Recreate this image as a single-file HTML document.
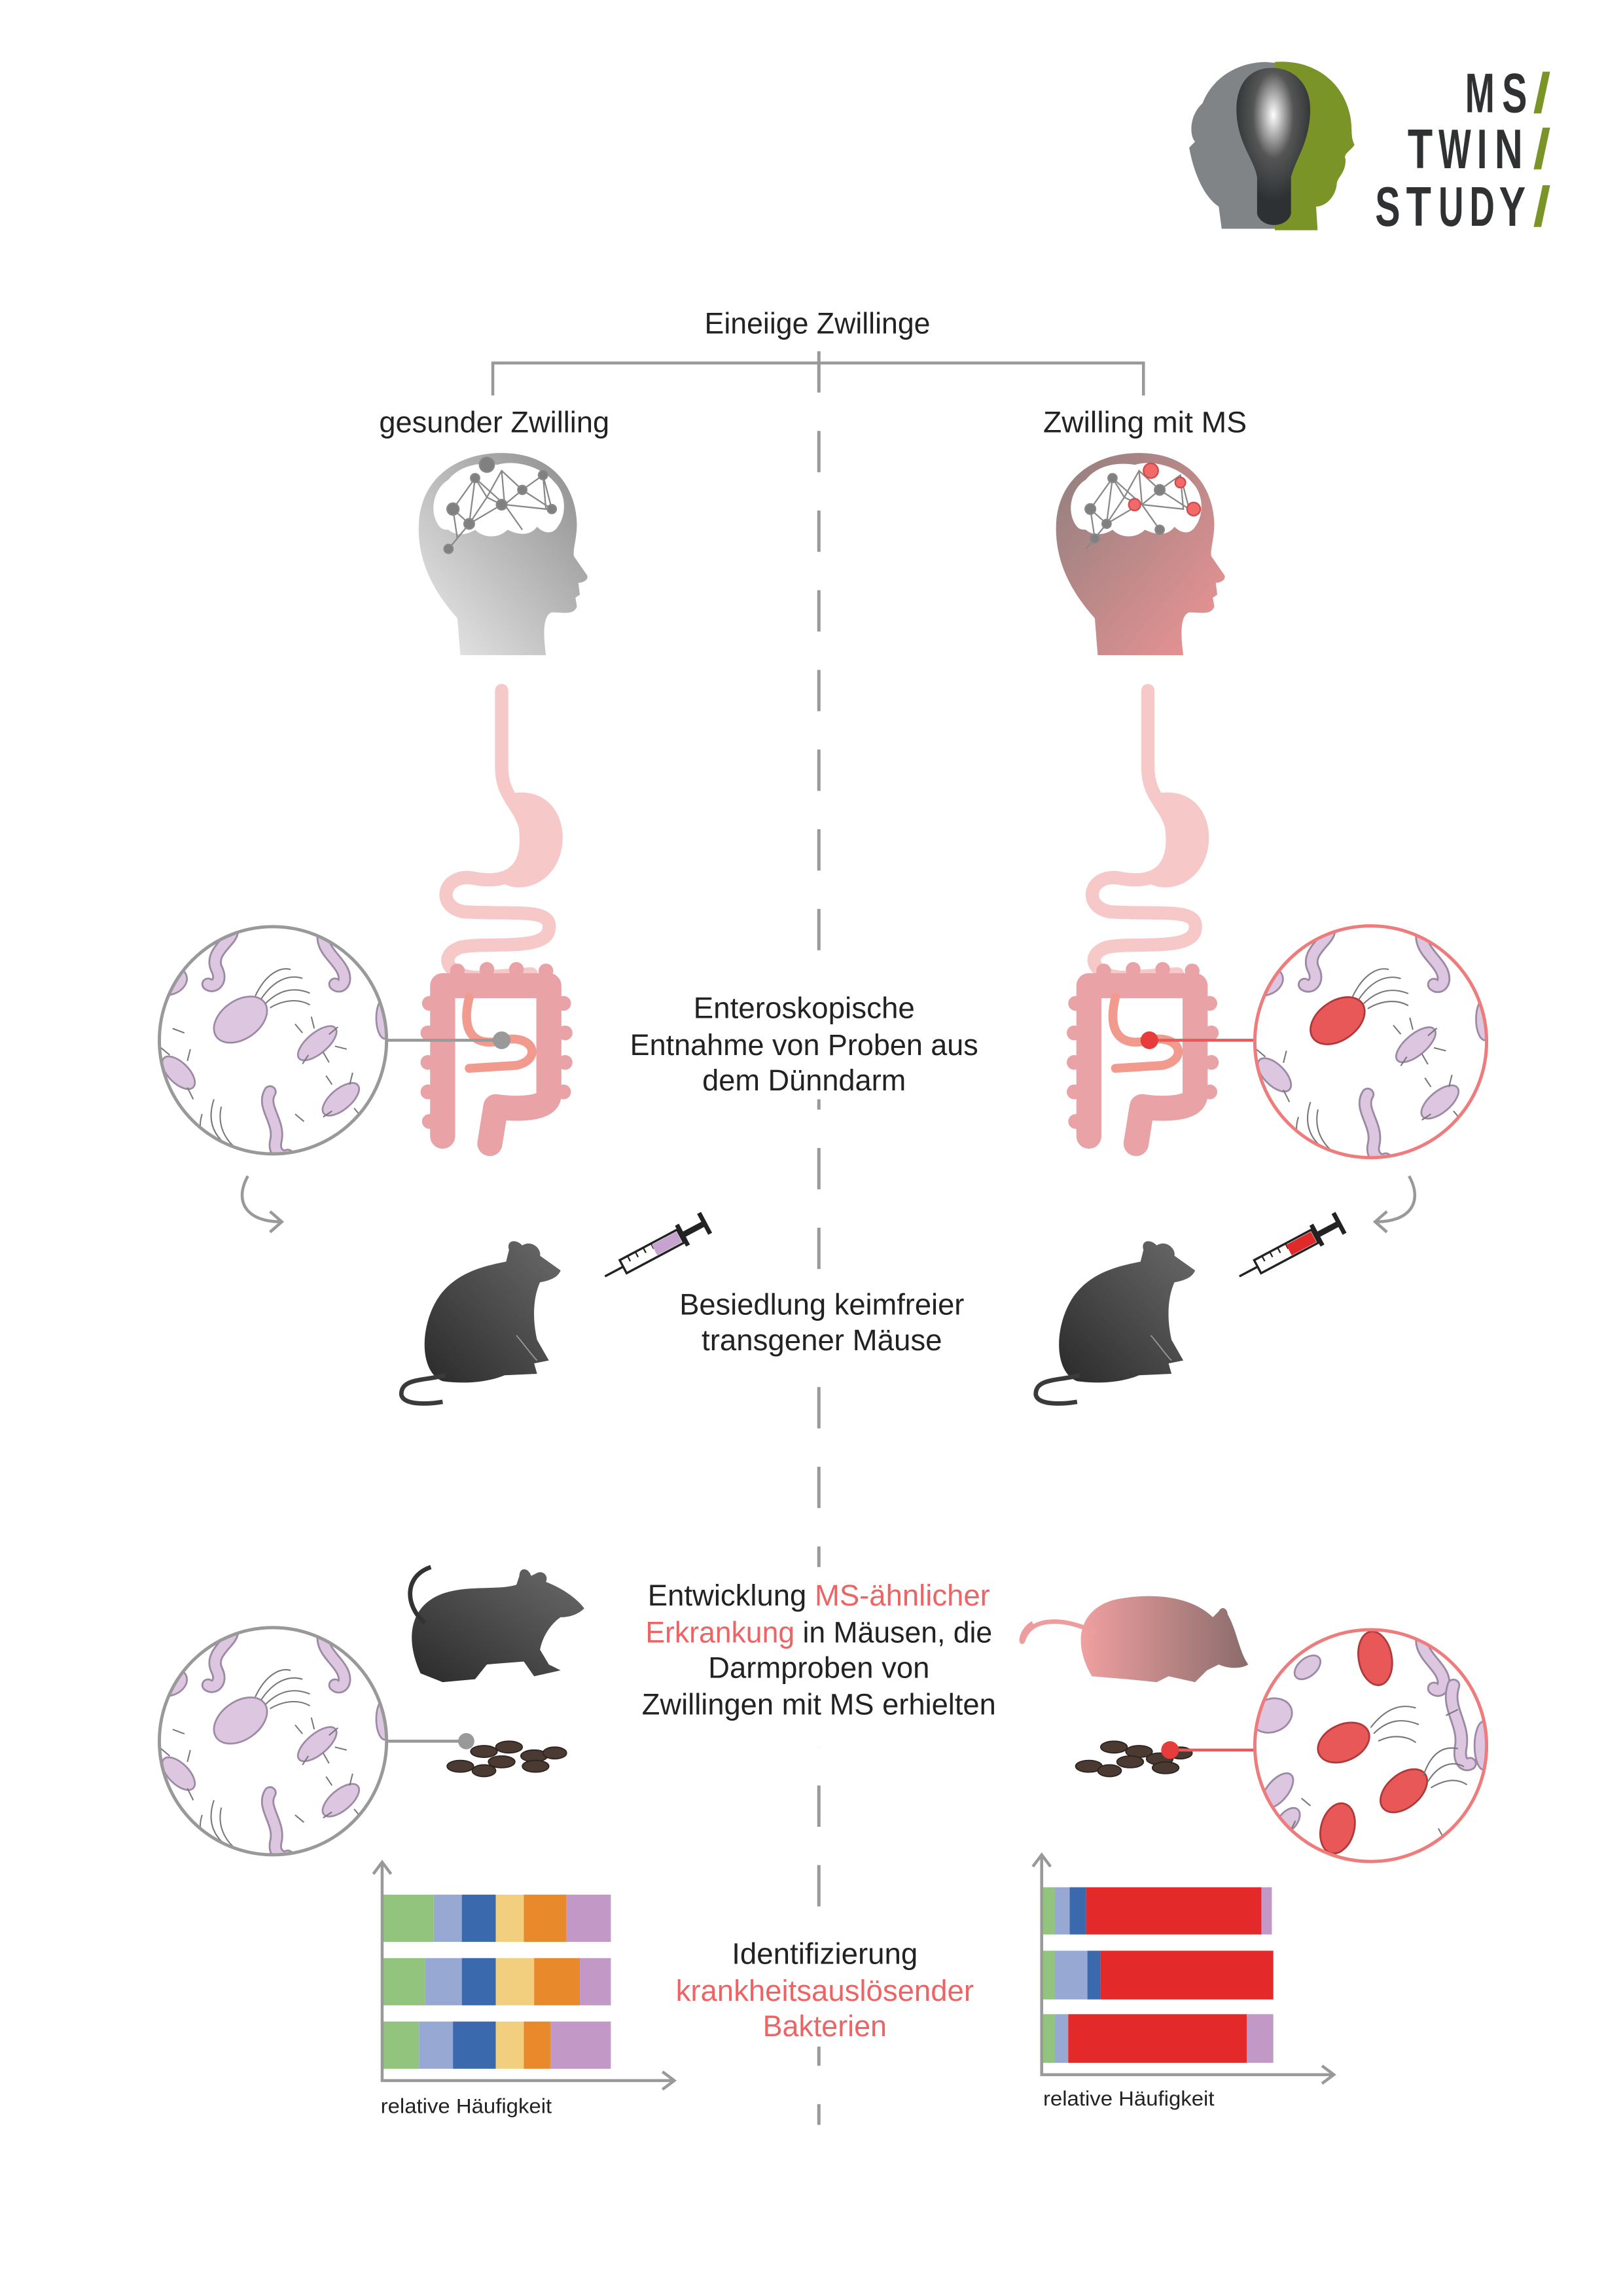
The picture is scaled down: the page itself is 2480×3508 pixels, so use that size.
<!DOCTYPE html>
<html><head><meta charset="utf-8"><style>
html,body{margin:0;padding:0;background:#fff;}
svg{display:block;}
text{font-family:"Liberation Sans Narrow","Liberation Sans",sans-serif;fill:#222;}
</style></head><body>
<svg width="2480" height="3508" viewBox="0 0 1100 1556" preserveAspectRatio="none" xmlns="http://www.w3.org/2000/svg">
<defs>
<linearGradient id="gHead" x1="1" y1="0" x2="0" y2="1"><stop offset="0" stop-color="#8a8a8a"/><stop offset="1" stop-color="#ececec"/></linearGradient>
<linearGradient id="rHead" x1="0" y1="0" x2="1" y2="1"><stop offset="0" stop-color="#8f7f7f"/><stop offset="1" stop-color="#f09494"/></linearGradient>
<linearGradient id="mouseG" x1="0" y1="1" x2="1" y2="0"><stop offset="0" stop-color="#2a2a2a"/><stop offset="1" stop-color="#6a6a6a"/></linearGradient>
<linearGradient id="pinkM" x1="0" y1="0" x2="1" y2="0"><stop offset="0" stop-color="#f0a0a0"/><stop offset="1" stop-color="#8a6c6c"/></linearGradient>
<radialGradient id="bulb" cx="0.5" cy="0.3" r="0.55"><stop offset="0" stop-color="#fff"/><stop offset="0.1" stop-color="#ddd"/><stop offset="0.5" stop-color="#555"/><stop offset="1" stop-color="#2d3133"/></radialGradient>
<clipPath id="cc"><circle cx="0" cy="0" r="77"/></clipPath>
<g id="bactL">
 <g fill="#dcc6e0" stroke="#9c8aa4" stroke-width="1.2">
  <path d="M-30,-78 C-20,-70 -45,-62 -38,-48 C-34,-40 -40,-35 -44,-38" fill="none" stroke="#9c8aa4" stroke-width="9" stroke-linecap="round"/>
  <path d="M-30,-78 C-20,-70 -45,-62 -38,-48 C-34,-40 -40,-35 -44,-38" fill="none" stroke="#dcc6e0" stroke-width="6.5" stroke-linecap="round"/>
  <path d="M35,-75 C30,-62 45,-55 48,-45 C50,-38 45,-35 42,-38" fill="none" stroke="#9c8aa4" stroke-width="9" stroke-linecap="round"/>
  <path d="M35,-75 C30,-62 45,-55 48,-45 C50,-38 45,-35 42,-38" fill="none" stroke="#dcc6e0" stroke-width="6.5" stroke-linecap="round"/>
  <path d="M-2,35 C-8,45 5,55 2,68 C0,76 6,80 10,78" fill="none" stroke="#9c8aa4" stroke-width="9" stroke-linecap="round"/>
  <path d="M-2,35 C-8,45 5,55 2,68 C0,76 6,80 10,78" fill="none" stroke="#dcc6e0" stroke-width="6.5" stroke-linecap="round"/>
  <ellipse cx="-22" cy="-14" rx="20" ry="13" transform="rotate(-35 -22 -14)"/>
  <ellipse cx="30" cy="2" rx="16" ry="7" transform="rotate(-40 30 2)"/>
  <ellipse cx="-64" cy="22" rx="14" ry="7" transform="rotate(45 -64 22)"/>
  <ellipse cx="46" cy="40" rx="15" ry="7" transform="rotate(-40 46 40)"/>
  <ellipse cx="-70" cy="-40" rx="12" ry="9" transform="rotate(-20 -70 -40)"/>
  <ellipse cx="76" cy="-15" rx="6" ry="14"/>
 </g>
 <g fill="none" stroke="#777" stroke-width="0.9">
  <path d="M-8,-28 C0,-40 10,-45 20,-42 M-5,-25 C5,-35 15,-36 25,-32 M-2,-22 C8,-28 18,-28 25,-24 M-12,-30 C-5,-45 5,-50 12,-48"/>
  <path d="M20,-5 l-5,-6 M28,-8 l-2,-8 M38,-4 l6,-5 M34,8 l4,7 M24,10 l-4,6 M42,4 l8,2"/>
  <path d="M-70,10 l-6,-5 M-58,14 l2,-8 M-70,30 l-8,4 M-58,32 l4,8"/>
  <path d="M40,30 l-4,-6 M52,30 l2,-8 M40,48 l-6,4 M55,46 l5,6"/>
  <path d="M-40,40 C-45,55 -40,65 -30,72 M-35,45 C-38,58 -32,68 -24,74 M-48,50 C-52,62 -46,70 -40,76"/>
  <path d="M60,60 C55,65 50,70 48,76 M-60,-5 l-8,-3 M15,50 l6,5"/>
 </g>
</g>
<g id="bactR">
 <g fill="#dcc6e0" stroke="#9c8aa4" stroke-width="1.2">
  <path d="M-30,-78 C-20,-70 -45,-62 -38,-48 C-34,-40 -40,-35 -44,-38" fill="none" stroke="#9c8aa4" stroke-width="9" stroke-linecap="round"/>
  <path d="M-30,-78 C-20,-70 -45,-62 -38,-48 C-34,-40 -40,-35 -44,-38" fill="none" stroke="#dcc6e0" stroke-width="6.5" stroke-linecap="round"/>
  <path d="M35,-75 C30,-62 45,-55 48,-45 C50,-38 45,-35 42,-38" fill="none" stroke="#9c8aa4" stroke-width="9" stroke-linecap="round"/>
  <path d="M35,-75 C30,-62 45,-55 48,-45 C50,-38 45,-35 42,-38" fill="none" stroke="#dcc6e0" stroke-width="6.5" stroke-linecap="round"/>
  <path d="M-2,35 C-8,45 5,55 2,68 C0,76 6,80 10,78" fill="none" stroke="#9c8aa4" stroke-width="9" stroke-linecap="round"/>
  <path d="M-2,35 C-8,45 5,55 2,68 C0,76 6,80 10,78" fill="none" stroke="#dcc6e0" stroke-width="6.5" stroke-linecap="round"/>
  <ellipse cx="30" cy="2" rx="16" ry="7" transform="rotate(-40 30 2)"/>
  <ellipse cx="-64" cy="22" rx="14" ry="7" transform="rotate(45 -64 22)"/>
  <ellipse cx="46" cy="40" rx="15" ry="7" transform="rotate(-40 46 40)"/>
  <ellipse cx="-70" cy="-40" rx="12" ry="9" transform="rotate(-20 -70 -40)"/>
  <ellipse cx="76" cy="-15" rx="6" ry="14"/>
 </g>
 <ellipse cx="-22" cy="-14" rx="20" ry="13" transform="rotate(-35 -22 -14)" fill="#e85858" stroke="#b03838" stroke-width="1.2"/>
 <g fill="none" stroke="#777" stroke-width="0.9">
  <path d="M-8,-28 C0,-40 10,-45 20,-42 M-5,-25 C5,-35 15,-36 25,-32 M-2,-22 C8,-28 18,-28 25,-24 M-12,-30 C-5,-45 5,-50 12,-48"/>
  <path d="M20,-5 l-5,-6 M28,-8 l-2,-8 M38,-4 l6,-5 M34,8 l4,7 M24,10 l-4,6 M42,4 l8,2"/>
  <path d="M-70,10 l-6,-5 M-58,14 l2,-8 M-70,30 l-8,4 M-58,32 l4,8"/>
  <path d="M40,30 l-4,-6 M52,30 l2,-8 M40,48 l-6,4 M55,46 l5,6"/>
  <path d="M-40,40 C-45,55 -40,65 -30,72 M-35,45 C-38,58 -32,68 -24,74 M-48,50 C-52,62 -46,70 -40,76"/>
 </g>
</g>
<g id="bactR2">
 <g fill="#dcc6e0" stroke="#9c8aa4" stroke-width="1.2">
  <path d="M35,-75 C30,-62 45,-55 48,-45 C50,-38 45,-35 42,-38" fill="none" stroke="#9c8aa4" stroke-width="9" stroke-linecap="round"/>
  <path d="M35,-75 C30,-62 45,-55 48,-45 C50,-38 45,-35 42,-38" fill="none" stroke="#dcc6e0" stroke-width="6.5" stroke-linecap="round"/>
  <path d="M55,-40 C50,-25 62,-15 60,0 C58,10 62,14 66,12" fill="none" stroke="#9c8aa4" stroke-width="9" stroke-linecap="round"/>
  <path d="M55,-40 C50,-25 62,-15 60,0 C58,10 62,14 66,12" fill="none" stroke="#dcc6e0" stroke-width="6.5" stroke-linecap="round"/>
  <ellipse cx="-66" cy="-20" rx="14" ry="11" transform="rotate(-20 -66 -20)"/>
  <ellipse cx="-62" cy="30" rx="14" ry="7" transform="rotate(-50 -62 30)"/>
  <ellipse cx="75" cy="0" rx="6" ry="16"/>
  <ellipse cx="-42" cy="-52" rx="10" ry="6" transform="rotate(-40 -42 -52)"/>
  <ellipse cx="-55" cy="50" rx="10" ry="6" transform="rotate(-50 -55 50)"/>
 </g>
 <g fill="#e85858" stroke="#b03838" stroke-width="1.2">
  <ellipse cx="3" cy="-58" rx="11" ry="18" transform="rotate(-10 3 -58)"/>
  <ellipse cx="-18" cy="-2" rx="18" ry="12" transform="rotate(-25 -18 -2)"/>
  <ellipse cx="22" cy="30" rx="18" ry="11" transform="rotate(-40 22 30)"/>
  <ellipse cx="-22" cy="55" rx="11" ry="17" transform="rotate(15 -22 55)"/>
 </g>
 <g fill="none" stroke="#777" stroke-width="0.9">
  <path d="M0,-12 C10,-25 20,-28 30,-25 M2,-8 C12,-18 22,-18 32,-14 M5,-3 C15,-8 25,-6 30,-2"/>
  <path d="M35,20 C40,5 48,0 58,2 M38,24 C45,12 55,10 62,14 M40,28 C50,22 58,22 64,26"/>
  <path d="M-40,40 l-6,-5 M-50,50 l-4,8 M45,55 C50,65 55,70 60,72 M50,-20 l8,-4"/>
 </g>
</g>
<g id="head">
 <path d="M30,137 L28,112 C10,92 0,70 2,45 C5,15 30,0 58,0 C90,0 108,20 109,48 C109,58 106,66 107,70 L116,83 C117,86 113,88 110,88 L111,96 L108,98 L109,104 C107,110 100,108 92,108 C86,110 86,122 88,137 Z"/>
</g>
<path id="brain" d="M16,48 C8,38 12,22 22,16 C30,6 44,4 55,6 C68,2 86,8 94,18 C102,26 102,40 96,48 C92,54 86,52 82,48 C76,56 66,52 62,50 C56,56 46,56 40,50 C34,54 26,54 22,50 C20,50 18,50 16,48 Z" fill="#fff"/>
<g id="mouseSit">
 <path d="M300,936 C284,930 284,898 298,878 C310,862 328,858 343,855 L345,847 C343,841 349,839 354,844 C360,840 367,846 366,851 L380,861 C378,866 372,868 366,869 C361,880 361,895 364,908 L372,922 L362,924 L364,931 L342,932 C330,937 314,938 300,936 Z" fill="url(#mouseG)"/>
 <path d="M302,932 C286,936 272,934 272,945 C273,952 288,952 300,950" fill="none" stroke="#3a3a3a" stroke-width="3"/>
 <path d="M350,905 C356,912 360,918 364,922" fill="none" stroke="#999" stroke-width="0.8"/>
</g>
<g id="syr">
 <line x1="0" y1="0" x2="14" y2="0" stroke="#222" stroke-width="1.5"/>
 <rect x="14" y="-5" width="44" height="10" fill="#fff" stroke="#222" stroke-width="1.5"/>
 <path d="M20,-5 v4 M26,-5 v4 M32,-5 v4 M38,-5 v4" stroke="#222" stroke-width="1"/>
 <rect x="58" y="-2" width="18" height="4" fill="#222"/>
 <rect x="58" y="-8" width="3" height="16" fill="#222"/>
 <rect x="75" y="-8" width="3" height="16" fill="#222"/>
</g>
</defs>

<!-- Logo -->
<g>
 <path d="M828,155 L826,140 C814,132 808,112 806,100 L810,96 C806,92 806,78 815,70 C822,52 840,42 858,42 L880,44 L880,155 Z" fill="#808487"/>
 <path d="M864,156 L864,42 C890,40 910,55 915,78 C917,88 915,92 918,98 C916,102 910,104 912,108 C912,118 906,120 906,125 C905,134 898,140 892,140 L893,156 Z" fill="#7b9428"/>
 <path d="M862,46 C846,46 838,58 838,74 C838,96 850,108 852,120 L852,145 C855,155 872,155 875,145 L875,120 C878,108 888,96 888,74 C888,58 878,46 862,46 Z" fill="url(#bulb)"/>
 <g font-family="Liberation Sans, sans-serif" font-size="38" font-weight="bold" style="fill:#2f3133">
  <text x="993" y="76" textLength="20" lengthAdjust="spacingAndGlyphs" style="fill:#2f3133">M</text>
  <text x="1018" y="76" textLength="17" lengthAdjust="spacingAndGlyphs" style="fill:#2f3133">S</text>
  <text x="954" y="114" textLength="17" lengthAdjust="spacingAndGlyphs" style="fill:#2f3133">T</text>
  <text x="975" y="114" textLength="22" lengthAdjust="spacingAndGlyphs" style="fill:#2f3133">W</text>
  <text x="1001" y="114" textLength="7" lengthAdjust="spacingAndGlyphs" style="fill:#2f3133">I</text>
  <text x="1013" y="114" textLength="19" lengthAdjust="spacingAndGlyphs" style="fill:#2f3133">N</text>
  <text x="932" y="153" textLength="17" lengthAdjust="spacingAndGlyphs" style="fill:#2f3133">S</text>
  <text x="953" y="153" textLength="17" lengthAdjust="spacingAndGlyphs" style="fill:#2f3133">T</text>
  <text x="975" y="153" textLength="17" lengthAdjust="spacingAndGlyphs" style="fill:#2f3133">U</text>
  <text x="996" y="153" textLength="17" lengthAdjust="spacingAndGlyphs" style="fill:#2f3133">D</text>
  <text x="1016" y="153" textLength="18" lengthAdjust="spacingAndGlyphs" style="fill:#2f3133">Y</text>
  <text x="1039" y="76" textLength="12" lengthAdjust="spacingAndGlyphs" style="fill:#7b9428">/</text>
  <text x="1039" y="114" textLength="12" lengthAdjust="spacingAndGlyphs" style="fill:#7b9428">/</text>
  <text x="1039" y="153" textLength="12" lengthAdjust="spacingAndGlyphs" style="fill:#7b9428">/</text>
 </g>
</g>

<!-- Title & bracket -->
<text x="554" y="226" font-size="20" text-anchor="middle" textLength="153" lengthAdjust="spacingAndGlyphs">Eineiige Zwillinge</text>
<path d="M334,268 V246 H775 V268" fill="none" stroke="#999" stroke-width="2"/>
<line x1="555" y1="238" x2="555" y2="1440" stroke="#999" stroke-width="2.2" stroke-dasharray="28,26"/>
<rect x="540" y="665" width="30" height="80" fill="#fff"/>
<rect x="540" y="862" width="30" height="60" fill="#fff"/>
<rect x="540" y="1062" width="30" height="122" fill="#fff"/>
<rect x="540" y="1305" width="30" height="82" fill="#fff"/>
<text x="335" y="293" font-size="20" text-anchor="middle" textLength="156" lengthAdjust="spacingAndGlyphs">gesunder Zwilling</text>
<text x="776" y="293" font-size="20" text-anchor="middle" textLength="138" lengthAdjust="spacingAndGlyphs">Zwilling mit MS</text>

<!-- Heads -->
<g transform="translate(282,307)">
 <use href="#head" fill="url(#gHead)"/>
 <use href="#brain" transform="translate(0,2)"/>
 <g stroke="#888" stroke-width="1" fill="#808080">
  <path d="M25,38 L40,17 L48,30 L58,12 L72,25 L86,15 L92,38 L72,25 L60,35 L40,17 L36,48 L58,35 L48,30 L36,48 L25,38 L28,58 M58,12 L60,35 L88,38 L86,15 M72,25 L92,38 M36,48 L22,65 M60,35 L72,52" fill="none"/>
  <circle cx="48" cy="8" r="5"/><circle cx="40" cy="17" r="3"/><circle cx="25" cy="38" r="4"/><circle cx="58" cy="35" r="3.5"/><circle cx="36" cy="48" r="3.5"/><circle cx="72" cy="25" r="3"/><circle cx="86" cy="15" r="3"/><circle cx="92" cy="38" r="3"/><circle cx="22" cy="65" r="3"/>
 </g>
</g>
<g transform="translate(714,307)">
 <use href="#head" fill="url(#rHead)"/>
 <use href="#brain" transform="translate(0,2)"/>
 <g stroke="#888" stroke-width="1" fill="#808080">
  <path d="M25,38 L40,17 L48,30 L58,12 L72,25 L86,15 L92,38 L72,25 L60,35 L40,17 L36,48 L58,35 L48,30 L36,48 L25,38 L28,58 M58,12 L60,35 L88,38 L86,15 M72,25 L92,38 M36,48 L22,65 M60,35 L72,52" fill="none"/>
  <circle cx="25" cy="38" r="3.5"/><circle cx="40" cy="17" r="3"/><circle cx="36" cy="48" r="3"/><circle cx="72" cy="25" r="3.5"/><circle cx="72" cy="52" r="3"/><circle cx="28" cy="58" r="3"/>
  <circle cx="66" cy="12" r="5" fill="#f06a6a" stroke="#d04a4a"/><circle cx="86" cy="20" r="3.5" fill="#f06a6a" stroke="#d04a4a"/><circle cx="55" cy="35" r="4" fill="#f06a6a" stroke="#d04a4a"/><circle cx="95" cy="38" r="4.5" fill="#f06a6a" stroke="#d04a4a"/>
 </g>
</g>

<!-- Guts -->
<g id="gut">
 <path d="M340,468 V520 C340,540 352,545 356,560 C360,590 345,600 320,595 C300,592 295,615 315,618 C350,620 375,615 372,630 C370,645 330,638 312,642 C295,648 305,665 330,662 L360,660" fill="none" stroke="#f7c8c8" stroke-width="9" stroke-linecap="round"/>
 <path d="M345,538 C372,532 386,555 380,578 C374,600 352,606 340,598 C350,590 358,575 352,555 Z" fill="#f7c8c8"/>
 <path d="M300,770 V668 H372 V742 C372,752 350,752 336,750 L332,775" fill="none" stroke="#e9a3a6" stroke-width="17" stroke-linejoin="round" stroke-linecap="round"/>
 <g fill="#e9a3a6">
  <circle cx="291" cy="680" r="5"/><circle cx="290" cy="700" r="5"/><circle cx="290" cy="720" r="5"/><circle cx="290" cy="740" r="5"/><circle cx="291" cy="760" r="5"/>
  <circle cx="310" cy="658" r="5"/><circle cx="330" cy="657" r="5"/><circle cx="350" cy="657" r="5"/><circle cx="370" cy="658" r="5"/>
  <circle cx="382" cy="680" r="5"/><circle cx="383" cy="700" r="5"/><circle cx="383" cy="720" r="5"/><circle cx="382" cy="740" r="5"/>
 </g>
 <path d="M318,676 C312,700 322,710 340,705 C362,700 368,718 350,722 L318,724" fill="none" stroke="#f29a8e" stroke-width="6" stroke-linecap="round"/>
</g>
<use href="#gut" transform="translate(438,0)"/>

<!-- Circles top -->
<line x1="262" y1="705" x2="340" y2="705" stroke="#999" stroke-width="2"/>
<circle cx="340" cy="705" r="6" fill="#999"/>
<g transform="translate(185,705)"><circle r="77" fill="#fff"/><g clip-path="url(#cc)"><use href="#bactL"/></g><circle r="77" fill="none" stroke="#999" stroke-width="2.2"/></g>
<line x1="779" y1="705" x2="850" y2="705" stroke="#e65a5a" stroke-width="2"/>
<circle cx="779" cy="705" r="6" fill="#e63c3c"/>
<g transform="translate(929,706) scale(1.02)"><circle r="77" fill="#fff"/><g clip-path="url(#cc)"><use href="#bactR"/></g><circle r="77" fill="none" stroke="#ef7c7c" stroke-width="2.2"/></g>

<text font-size="20" text-anchor="middle"><tspan x="545" y="690" textLength="150" lengthAdjust="spacingAndGlyphs">Enteroskopische</tspan><tspan x="545" y="715" textLength="236" lengthAdjust="spacingAndGlyphs">Entnahme von Proben aus</tspan><tspan x="545" y="739" textLength="138" lengthAdjust="spacingAndGlyphs">dem Dünndarm</tspan></text>

<!-- Curved arrows -->
<path d="M168,797 C158,815 168,828 190,828 M183,821 L191,828 L183,835" fill="none" stroke="#999" stroke-width="2"/>
<path d="M955,797 C965,815 955,828 933,828 M940,821 L932,828 L940,835" fill="none" stroke="#999" stroke-width="2"/>

<!-- Sitting mice & syringes -->
<use href="#mouseSit"/>
<use href="#mouseSit" transform="translate(430,0)"/>
<g transform="translate(410,865) rotate(-28)"><use href="#syr"/><rect x="38" y="-4" width="19" height="8" fill="#c7a3cf"/></g>
<g transform="translate(840,865) rotate(-28)"><use href="#syr"/><rect x="38" y="-4" width="19" height="8" fill="#e02a2a"/></g>
<text font-size="20" text-anchor="middle"><tspan x="557" y="891" textLength="193" lengthAdjust="spacingAndGlyphs">Besiedlung keimfreier</tspan><tspan x="557" y="915" textLength="163" lengthAdjust="spacingAndGlyphs">transgener Mäuse</tspan></text>

<!-- Second row mice -->
<path d="M285,1134 C274,1110 278,1088 300,1080 C318,1074 336,1078 350,1074 L352,1068 C352,1062 358,1062 360,1068 L364,1066 C368,1064 372,1068 370,1072 C380,1076 390,1082 396,1090 C392,1094 386,1096 380,1096 C374,1100 368,1108 366,1118 L372,1128 L380,1132 L362,1136 L355,1126 L330,1128 L322,1138 L300,1140 Z" fill="url(#mouseG)"/>
<path d="M288,1100 C274,1088 274,1068 292,1062" fill="none" stroke="#333" stroke-width="3"/>
<path d="M740,1136 C726,1112 732,1090 756,1084 C786,1078 810,1084 822,1096 L826,1092 C828,1088 832,1090 832,1094 C838,1104 840,1120 846,1128 C840,1132 830,1130 826,1128 L818,1132 L810,1140 L792,1136 L784,1140 L764,1138 Z" fill="url(#pinkM)"/>
<path d="M742,1106 C720,1096 700,1096 694,1110 C692,1118 690,1106 700,1100" fill="none" stroke="#ef9c9c" stroke-width="3"/>
<text font-size="20" text-anchor="middle"><tspan x="555" y="1088" textLength="232" lengthAdjust="spacingAndGlyphs">Entwicklung <tspan style="fill:#ee6464">MS-ähnlicher</tspan></tspan><tspan x="555" y="1113" textLength="235" lengthAdjust="spacingAndGlyphs"><tspan style="fill:#ee6464">Erkrankung</tspan> in Mäusen, die</tspan><tspan x="555" y="1137" textLength="150" lengthAdjust="spacingAndGlyphs">Darmproben von</tspan><tspan x="555" y="1162" textLength="240" lengthAdjust="spacingAndGlyphs">Zwillingen mit MS erhielten</tspan></text>

<!-- pellets -->
<g fill="#4a3a32" stroke="#2e241f" stroke-width="0.8">
 <ellipse cx="328" cy="1187" rx="9" ry="4"/><ellipse cx="345" cy="1184" rx="9" ry="4"/><ellipse cx="362" cy="1190" rx="9" ry="4"/><ellipse cx="376" cy="1188" rx="8" ry="4"/><ellipse cx="340" cy="1194" rx="9" ry="4"/><ellipse cx="312" cy="1197" rx="9" ry="4"/><ellipse cx="328" cy="1200" rx="8" ry="4"/><ellipse cx="363" cy="1197" rx="9" ry="4"/>
 <ellipse cx="755" cy="1184" rx="9" ry="4"/><ellipse cx="772" cy="1187" rx="9" ry="4"/><ellipse cx="786" cy="1192" rx="9" ry="4"/><ellipse cx="800" cy="1188" rx="8" ry="4"/><ellipse cx="766" cy="1194" rx="9" ry="4"/><ellipse cx="738" cy="1197" rx="9" ry="4"/><ellipse cx="752" cy="1200" rx="8" ry="4"/><ellipse cx="790" cy="1198" rx="9" ry="4"/>
</g>
<line x1="262" y1="1180" x2="316" y2="1180" stroke="#999" stroke-width="2"/>
<circle cx="316" cy="1180" r="5.5" fill="#999"/>
<line x1="793" y1="1186" x2="850" y2="1186" stroke="#e65a5a" stroke-width="2"/>
<circle cx="793" cy="1186" r="6" fill="#e63c3c"/>
<g transform="translate(185,1180)"><circle r="77" fill="#fff"/><g clip-path="url(#cc)"><use href="#bactL"/></g><circle r="77" fill="none" stroke="#999" stroke-width="2.2"/></g>
<g transform="translate(929,1183) scale(1.02)"><circle r="77" fill="#fff"/><g clip-path="url(#cc)"><use href="#bactR2"/></g><circle r="77" fill="none" stroke="#ef7c7c" stroke-width="2.2"/></g>

<!-- Left chart -->
<g>
 <g transform="translate(0,1284)">
  <rect x="259" width="35" height="32" fill="#93c47d"/><rect x="294" width="19" height="32" fill="#97a9d3"/><rect x="313" width="23" height="32" fill="#3a69ad"/><rect x="336" width="19" height="32" fill="#f1cf7e"/><rect x="355" width="29" height="32" fill="#e8892b"/><rect x="384" width="30" height="32" fill="#c298c6"/>
 </g>
 <g transform="translate(0,1327)">
  <rect x="259" width="29" height="32" fill="#93c47d"/><rect x="288" width="25" height="32" fill="#97a9d3"/><rect x="313" width="23" height="32" fill="#3a69ad"/><rect x="336" width="26" height="32" fill="#f1cf7e"/><rect x="362" width="31" height="32" fill="#e8892b"/><rect x="393" width="21" height="32" fill="#c298c6"/>
 </g>
 <g transform="translate(0,1370)">
  <rect x="259" width="25" height="32" fill="#93c47d"/><rect x="284" width="23" height="32" fill="#97a9d3"/><rect x="307" width="29" height="32" fill="#3a69ad"/><rect x="336" width="19" height="32" fill="#f1cf7e"/><rect x="355" width="18" height="32" fill="#e8892b"/><rect x="373" width="41" height="32" fill="#c298c6"/>
 </g>
 <path d="M259,1262 V1410 H456 M253,1270 L259,1262 L265,1270 M449,1404 L457,1410 L449,1416" fill="none" stroke="#999" stroke-width="2"/>
 <text x="258" y="1432" font-size="14" textLength="116" lengthAdjust="spacingAndGlyphs">relative Häufigkeit</text>
</g>
<text font-size="20" text-anchor="middle"><tspan x="559" y="1331" textLength="126" lengthAdjust="spacingAndGlyphs">Identifizierung</tspan><tspan x="559" y="1356" textLength="202" lengthAdjust="spacingAndGlyphs" style="fill:#ee6464">krankheitsauslösender</tspan><tspan x="559" y="1380" textLength="84" lengthAdjust="spacingAndGlyphs" style="fill:#ee6464">Bakterien</tspan></text>

<!-- Right chart -->
<g>
 <g transform="translate(0,1279)">
  <rect x="707" width="8" height="32" fill="#93c47d"/><rect x="715" width="10" height="32" fill="#97a9d3"/><rect x="725" width="11" height="32" fill="#3a69ad"/><rect x="736" width="119" height="32" fill="#e3292a"/><rect x="855" width="7" height="32" fill="#c298c6"/>
 </g>
 <g transform="translate(0,1322)">
  <rect x="707" width="8" height="33" fill="#93c47d"/><rect x="715" width="22" height="33" fill="#97a9d3"/><rect x="737" width="9" height="33" fill="#3a69ad"/><rect x="746" width="117" height="33" fill="#e3292a"/>
 </g>
 <g transform="translate(0,1365)">
  <rect x="707" width="8" height="33" fill="#93c47d"/><rect x="715" width="9" height="33" fill="#97a9d3"/><rect x="724" width="121" height="33" fill="#e3292a"/><rect x="845" width="18" height="33" fill="#c298c6"/>
 </g>
 <path d="M706,1257 V1406 H903 M700,1265 L706,1257 L712,1265 M896,1400 L904,1406 L896,1412" fill="none" stroke="#999" stroke-width="2"/>
 <text x="707" y="1427" font-size="14" textLength="116" lengthAdjust="spacingAndGlyphs">relative Häufigkeit</text>
</g>
</svg>
</body></html>
